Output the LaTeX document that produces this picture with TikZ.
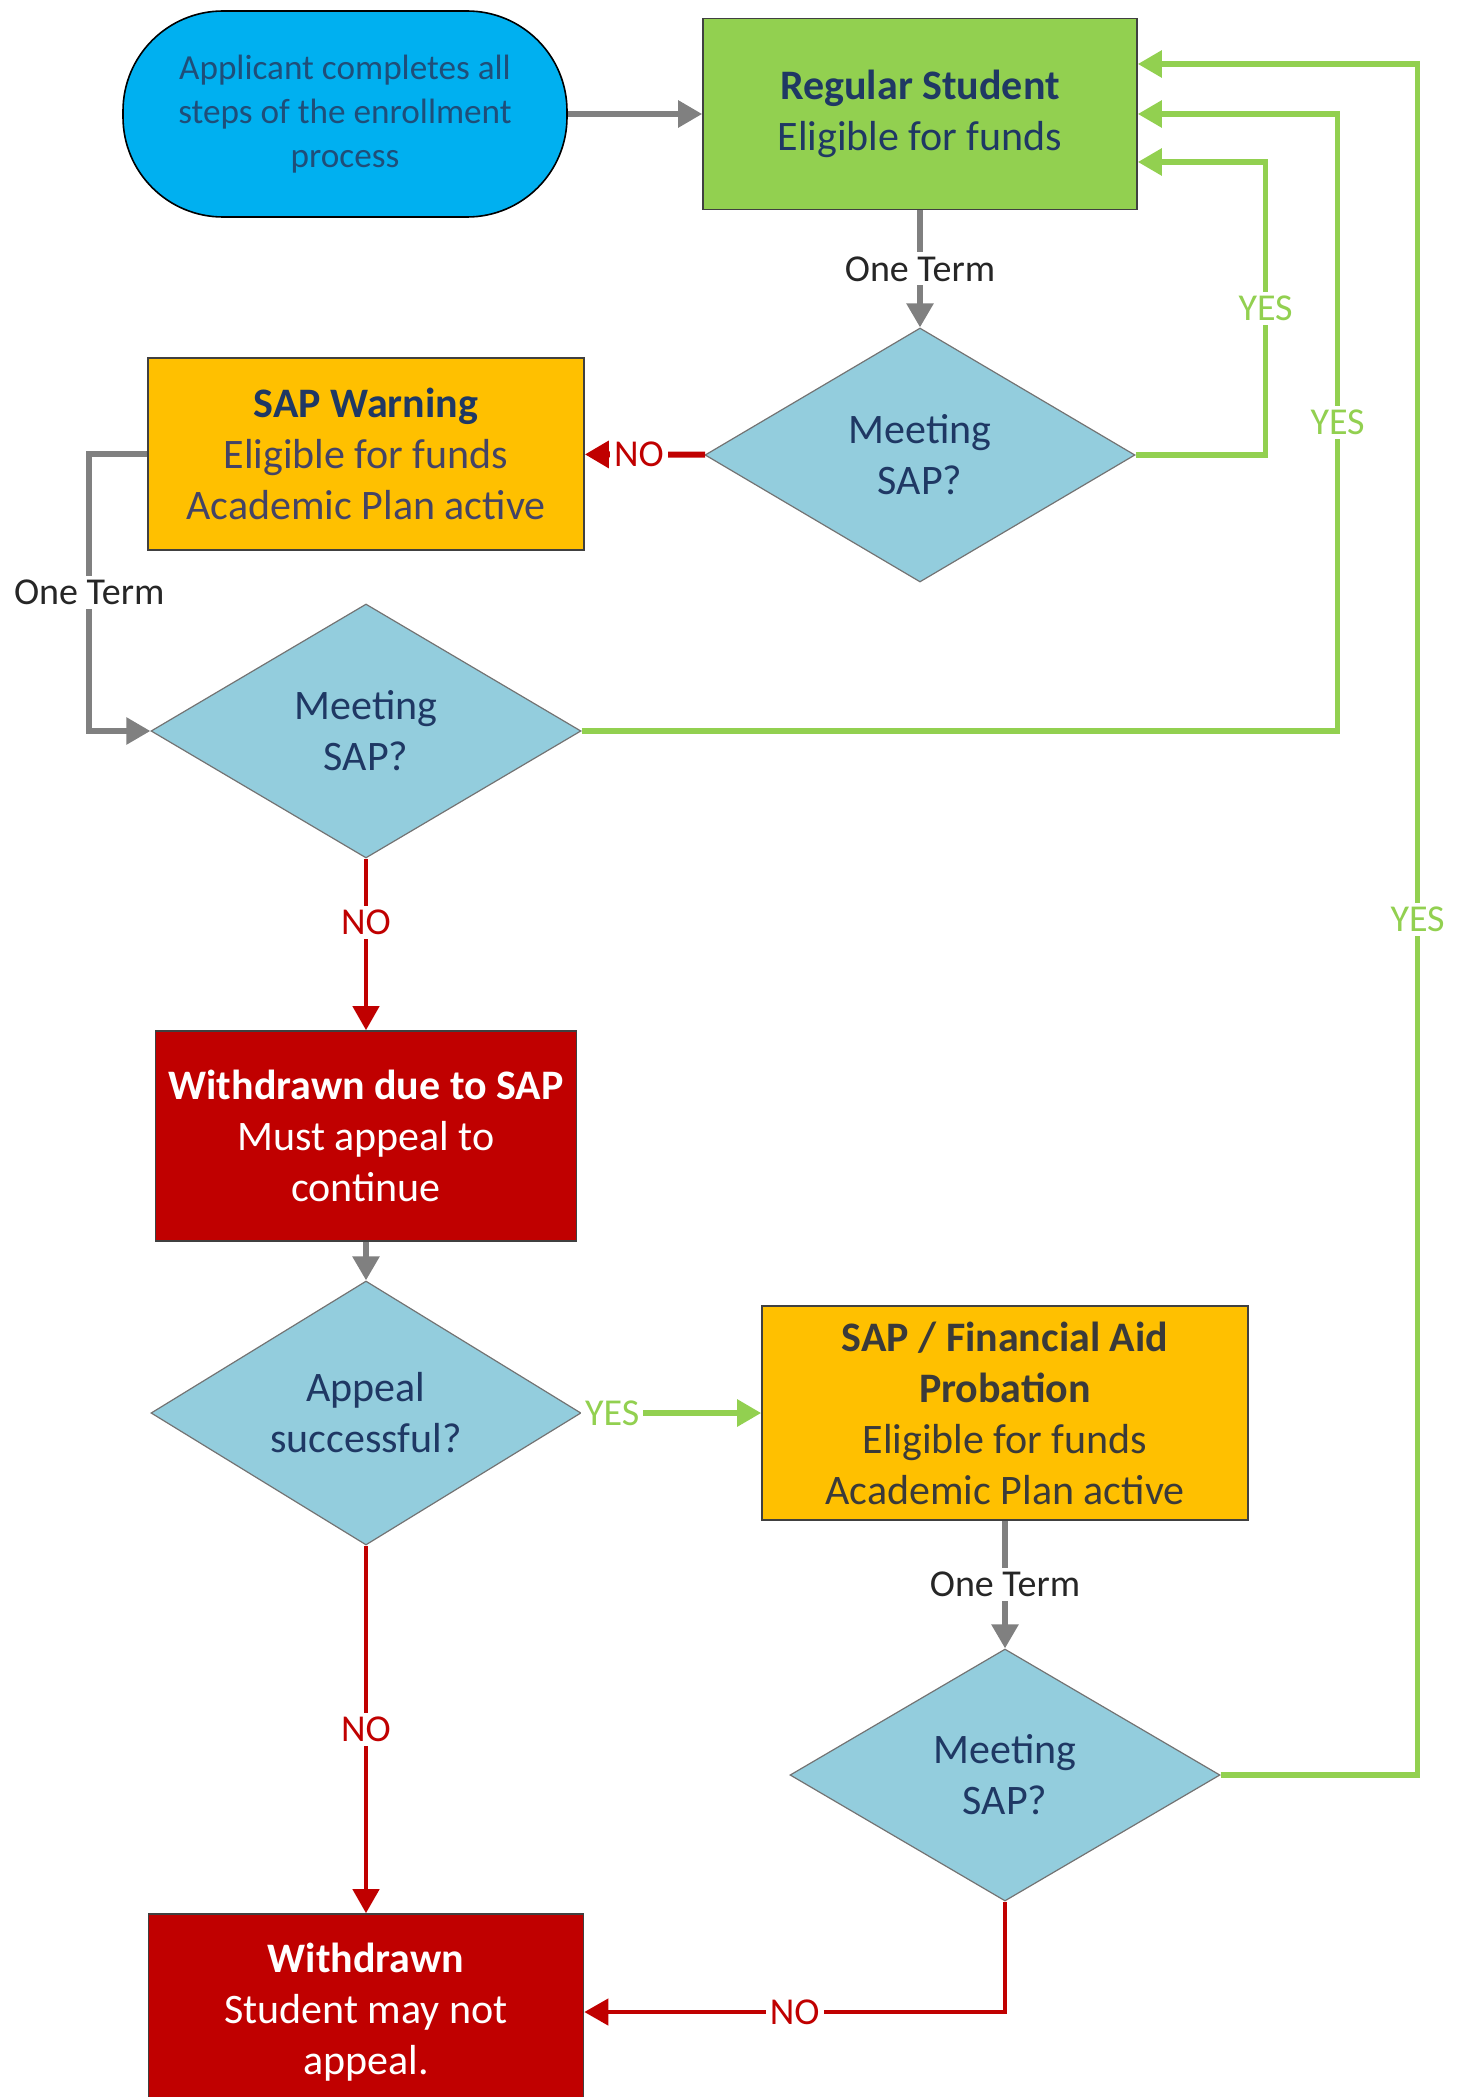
\documentclass[tikz,border=0pt]{standalone}
\usepackage{fontspec}
\setmainfont{Carlito}
\usetikzlibrary{arrows.meta, shapes.geometric}

\definecolor{startblue}{HTML}{00B0F0}
\definecolor{regulargreen}{HTML}{92D050}
\definecolor{warnorange}{HTML}{FFC000}
\definecolor{withdrawnred}{HTML}{C00000}
\definecolor{decisionblue}{HTML}{93CDDD}
\definecolor{navytext}{HTML}{1F3864}
\definecolor{starttext}{HTML}{1F4E79}
\definecolor{warntext}{HTML}{444466}
\definecolor{darktext}{HTML}{3A3A3A}
\definecolor{linegray}{HTML}{808080}

\begin{document}
\begin{tikzpicture}[
  x=0.5pt, y=-0.5pt,
  font=\fontsize{21}{25.5}\selectfont,
  start/.style = {draw=black, line width=0.8pt, fill=startblue, rounded corners=50pt,
    minimum width=222pt, minimum height=103pt, align=center, text=starttext,
    font=\fontsize{17.6}{22}\selectfont},
  block/.style = {draw=black!75, line width=0.8pt, inner sep=2pt, align=center},
  decision/.style = {diamond, draw=black!55, line width=0.6pt, fill=decisionblue,
    minimum width=215pt, minimum height=127pt, aspect=1.7, inner sep=0pt,
    align=center, text=navytext},
  arrow/.style = {line width=2.8pt, -{Triangle[length=12pt, width=13pt]}},
  grayarrow/.style = {arrow, draw=linegray},
  yesarrow/.style = {arrow, draw=regulargreen},
  noarrow/.style = {arrow, line width=2.2pt, draw=withdrawnred},
  term/.style = {fill=white, inner sep=2pt, text=black!85, font=\fontsize{19}{22}\selectfont},
  yestext/.style = {fill=white, inner sep=2pt, text=regulargreen, font=\fontsize{19}{22}\selectfont},
  notext/.style = {fill=white, inner sep=2pt, text=withdrawnred, font=\fontsize{19}{22}\selectfont}
]
  \useasboundingbox (0,0) rectangle (1463,2097);
  \clip (0,0) rectangle (1463,2097);

  \node[start] (apply) at (345,114) {Applicant completes all\\steps of the enrollment\\process};
  \node[block, fill=regulargreen, text=navytext, minimum width=217pt, minimum height=95.5pt]
    (regular) at (920,114) {\textbf{Regular Student}\\Eligible for funds};
  \node[decision] (meet1) at (920,455) {Meeting\\SAP?};
  \node[block, fill=warnorange, text=warntext, minimum width=218pt, minimum height=96pt]
    (warning) at (366,454) {\textcolor{navytext}{\textbf{SAP Warning}}\\Eligible for funds\\Academic Plan active};
  \node[decision] (meet2) at (366,731) {Meeting\\SAP?};
  \node[block, fill=withdrawnred, text=white, minimum width=210.5pt, minimum height=105pt]
    (withdrawnsap) at (366,1136) {\textbf{Withdrawn due to SAP}\\Must appeal to\\continue};
  \node[decision, minimum height=132pt] (appeal) at (366,1413) {Appeal\\successful?};
  \node[block, fill=warnorange, text=darktext, minimum width=243pt, minimum height=107pt]
    (probation) at (1005,1413) {\textbf{SAP / Financial Aid}\\\textbf{Probation}\\Eligible for funds\\Academic Plan active};
  \node[decision, minimum height=126pt] (meet4) at (1005,1775) {Meeting\\SAP?};
  \node[block, fill=withdrawnred, text=white, minimum width=217.5pt, minimum height=98pt]
    (withdrawn) at (366,2012) {\textbf{Withdrawn}\\Student may not\\appeal.};

  % one term steps
  \draw[grayarrow] (apply) -- (regular);
  \draw[grayarrow] (regular) -- node[term] {One Term} (meet1);
  \draw[grayarrow] (warning.west) -- ++(-58,0) |- node[term, pos=0.25] {One Term} (meet2.west);
  \draw[grayarrow] (withdrawnsap) -- (appeal);
  \draw[grayarrow] (probation) -- node[term] {One Term} (meet4);

  % back to regular student
  \draw[yesarrow] (meet1.east) -- ++(130,0) |- node[yestext, pos=0.25] {YES} ([yshift=-24pt]regular.east);
  \draw[yesarrow] (meet2.east) -- ++(756,0) |- node[yestext, pos=0.25] {YES} (regular.east);
  \draw[yesarrow] (meet4.east) -- ++(197,0) |- node[yestext, pos=0.25] {YES} ([yshift=25pt]regular.east);
  \draw[yesarrow] (appeal) -- node[yestext, pos=0.17] {YES} (probation);

  % not meeting SAP
  \draw[noarrow, line width=3pt] (meet1) -- node[notext, pos=0.55] {NO} (warning);
  \draw[noarrow] (meet2) -- node[notext, pos=0.37] {NO} (withdrawnsap);
  \draw[noarrow] (appeal) -- node[notext] {NO} (withdrawn);
  \draw[noarrow] (meet4.south) |- node[notext, pos=0.75] {NO} (withdrawn.east);
\end{tikzpicture}
\end{document}
